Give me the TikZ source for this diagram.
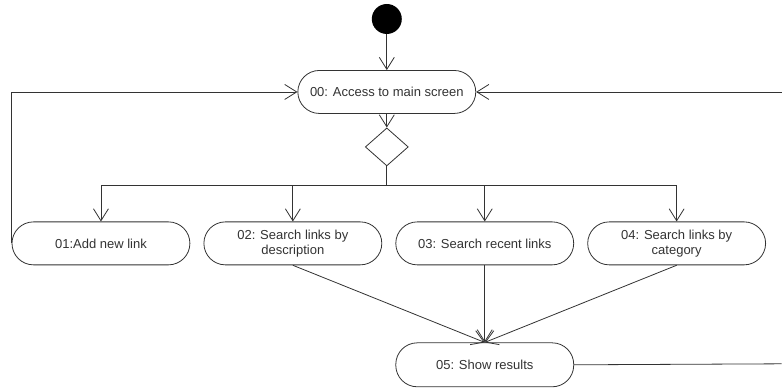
\documentclass[tikz,border=0pt]{standalone}
\usepackage{fontspec}
\setmainfont{Liberation Sans}
\usetikzlibrary{arrows.meta,shapes.geometric}

\begin{document}
\begin{tikzpicture}[x=1pt,y=-1pt,line width=0.8pt,draw=black!80,
   >={Straight Barb[length=12pt,width=15pt,line width=0.8pt]},
   act/.style={draw=black!80,rectangle,rounded corners=21.5pt,minimum width=178pt,minimum height=43pt,
      align=center,text=black!80,font=\fontsize{13}{15}\selectfont,inner sep=2pt}]
\fill[white] (0,0) rectangle (782,390);
% start, main screen and decision
\node[circle,fill=black,minimum size=30pt,inner sep=0pt] (start) at (387,19) {};
\node[act] (main) at (387,92) {00: Access to main screen};
\node[diamond,draw=black!80,minimum width=43pt,minimum height=38pt,inner sep=0pt] (dec) at (387,147) {};
\draw[->] (start) -- (main);
\draw[->] (main) -- (dec);
\draw (dec.south) -- (387,185) coordinate (fork);
% the four choices
\foreach \x/\n/\1 in %
{101/add/{01:Add new link},293/desc/{02: Search links by\\description},
 485/recent/{03: Search recent links},677/cat/{04: Search links by\\category}} {
   \node[act] (\n) at (\x,243.5) {\1};
   \draw[->] (fork) -| (\n.north);
}
\node[act,minimum height=44pt] (res) at (485,365) {05: Show results};
\foreach \n in {desc,recent,cat} {
   \draw[->] (\n.south) -- (res.north);
}
% back to the main screen
\draw[->] (add.west) |- (main.west);
\coordinate (outR) at (782,364);
\coordinate (inR) at (782,92);
\draw (res.east) -- (outR);
\draw[->] (inR) -- (main.east);
\end{tikzpicture}
\end{document}
